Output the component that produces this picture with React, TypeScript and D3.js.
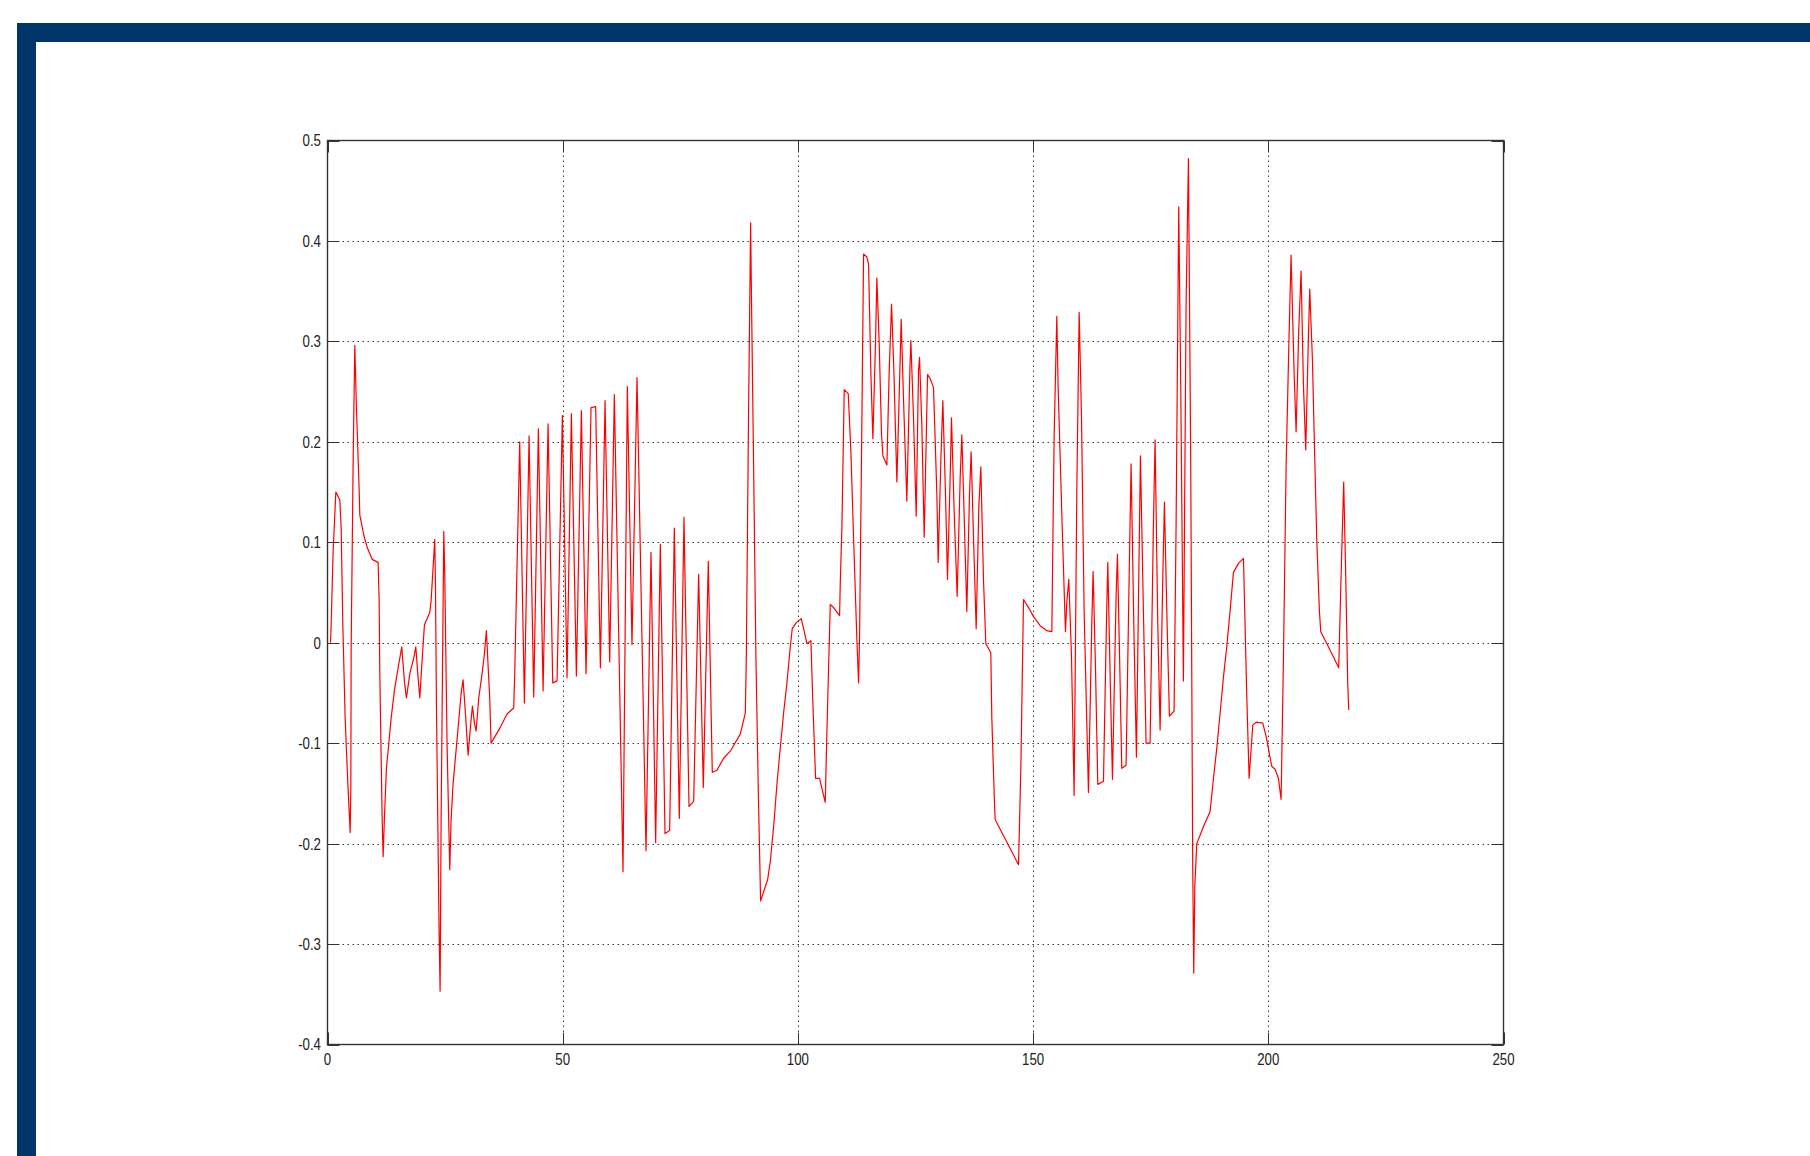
import * as d3 from "d3";

// tick values of the two axes
const xTicks = [0, 50, 100, 150, 200, 250];
const yTicks = [-0.4, -0.3, -0.2, -0.1, 0, 0.1, 0.2, 0.3, 0.4, 0.5];
const yTickLabels = ["-0.4", "-0.3", "-0.2", "-0.1", "0", "0.1", "0.2", "0.3", "0.4", "0.5"];

// the red trace ([x, y])
const part1: [number, number][] = [
  [0.64, 0], [0.78, 0.018], [1.2, 0.091], [1.77, 0.15], [2.62, 0.142], [2.9, 0.115],
  [3.26, 0.018], [3.75, -0.075], [4.32, -0.14], [4.82, -0.189], [4.96, -0.144], [5.03, -0.006],
  [5.45, 0.18], [5.8, 0.296], [6.16, 0.233], [6.73, 0.152], [6.87, 0.127], [7.72, 0.107],
  [8.43, 0.095], [9.49, 0.083], [10.76, 0.08], [10.98, 0.042], [11.12, -0.031], [11.61, -0.173],
  [11.83, -0.213], [12.11, -0.173], [12.54, -0.124], [12.96, -0.104], [13.53, -0.075],
  [14.24, -0.047], [14.94, -0.027], [15.79, -0.004], [16.36, -0.039], [16.78, -0.055],
  [17.49, -0.031], [18.34, -0.015], [18.77, -0.004], [19.19, -0.031], [19.62, -0.055],
  [20.04, -0.023], [20.61, 0.018], [21.74, 0.03], [22.03, 0.042], [22.45, 0.075], [22.8, 0.103],
  [22.95, 0.058], [23.16, -0.063], [23.73, -0.29], [23.94, -0.347], [24.15, -0.177], [24.72, 0.111],
  [24.93, 0.067], [25.43, -0.104], [25.99, -0.226], [26.27, -0.177], [26.7, -0.14], [27.55, -0.096],
  [28.4, -0.051], [28.82, -0.037], [29.39, -0.075], [29.89, -0.112], [30.38, -0.084], [30.81, -0.063],
  [31.23, -0.08], [31.59, -0.088], [32.15, -0.055], [32.86, -0.031], [33.36, -0.011], [33.78, 0.012],
  [34.14, -0.023], [34.49, -0.055], [34.77, -0.1], [36.76, -0.084], [38.17, -0.071], [39.59, -0.065],
  [39.8, -0.031], [40.86, 0.2],
];

const part2: [number, number][] = [
  [41.86, -0.06], [42.85, 0.206], [43.84, -0.054], [44.83, 0.213], [45.83, -0.048], [46.89, 0.218],
  [47.88, -0.04], [48.8, -0.038], [49.93, 0.226], [50.92, -0.035], [51.84, 0.228], [52.91, -0.033],
  [53.97, 0.231], [54.96, -0.031], [56.02, 0.234], [57.01, 0.235], [58.01, -0.025], [59.0, 0.241],
  [59.99, -0.019], [60.98, 0.247], [62.82, -0.228], [63.74, 0.255], [64.73, -0.002], [65.8, 0.264],
  [67.71, -0.207], [68.77, 0.09], [69.76, -0.199], [70.75, 0.098], [71.75, -0.19], [72.74, -0.187],
  [73.73, 0.114], [74.79, -0.175], [75.78, 0.125], [76.85, -0.163], [77.84, -0.158], [78.9, 0.068],
  [79.89, -0.144], [80.95, 0.081], [81.8, -0.129], [82.79, -0.127], [84.21, -0.115], [85.63, -0.108],
  [87.75, -0.091], [88.82, -0.07],
];

const part3: [number, number][] = [
  [89.03, -0.016], [89.52, 0.234], [89.95, 0.418], [90.09, 0.359], [90.59, 0.174], [91.08, -0.016],
  [91.58, -0.147], [92.07, -0.257], [93.56, -0.236], [94.13, -0.218], [94.84, -0.183], [95.54, -0.141],
  [96.25, -0.105], [96.96, -0.07], [97.67, -0.04], [98.38, -0.004], [98.8, 0.014], [99.65, 0.02],
  [100.71, 0.024], [101.21, 0.014], [101.92, -0.001], [102.77, 0.002], [103.12, -0.052], [103.76, -0.135],
  [104.61, -0.135], [105.81, -0.159], [106.17, -0.088], [106.88, 0.038], [107.58, 0.035], [108.86, 0.027],
];

const part4: [number, number][] = [
  [109.0, 0.058], [109.35, 0.114], [109.85, 0.252], [110.7, 0.248], [111.27, 0.19], [111.83, 0.105],
  [112.54, 0.003], [112.9, -0.04], [113.11, 0.007], [113.6, 0.22], [113.96, 0.387], [114.67, 0.384],
  [115.02, 0.377], [115.52, 0.267], [115.94, 0.203], [116.51, 0.301], [116.79, 0.363], [117.29, 0.297],
  [117.78, 0.207], [118.07, 0.186], [118.92, 0.177], [119.41, 0.271], [119.91, 0.337], [120.4, 0.271],
  [121.04, 0.16], [121.75, 0.284], [121.96, 0.322], [122.46, 0.241], [123.16, 0.141], [123.8, 0.271],
  [124.01, 0.301], [124.58, 0.224], [125.15, 0.126], [125.64, 0.271], [125.86, 0.284], [126.35, 0.216],
  [126.85, 0.105], [127.56, 0.267], [128.12, 0.263], [128.83, 0.254], [129.54, 0.148], [129.82, 0.08],
  [130.39, 0.182], [130.81, 0.241], [131.38, 0.148], [131.8, 0.063], [132.37, 0.165], [132.65, 0.224],
  [133.22, 0.131], [133.86, 0.046], [134.5, 0.165], [134.85, 0.207], [135.42, 0.114], [135.91, 0.031],
  [136.48, 0.148], [136.83, 0.19], [137.33, 0.105], [137.9, 0.014], [138.46, 0.135], [138.89, 0.175],
  [139.45, 0.063], [139.95, -0.001], [141.01, -0.01], [141.22, -0.074], [141.72, -0.15], [141.93, -0.176],
];

const part5: [number, number][] = [
  [146.9, -0.221], [147.4, -0.123], [147.82, 0.001], [147.96, 0.043], [149.03, 0.035], [150.09, 0.026],
  [151.5, 0.017], [152.92, 0.012], [153.98, 0.011], [154.47, 0.205], [155.04, 0.325], [155.32, 0.254],
  [156.17, 0.118], [156.88, 0.011], [157.17, 0.041], [157.59, 0.063], [158.16, -0.013], [158.72, -0.152],
  [159.29, 0.15], [159.79, 0.329], [160.28, 0.227], [160.85, 0.031], [161.77, -0.149], [162.48, 0.02],
  [162.76, 0.071], [163.26, -0.024], [163.75, -0.141], [164.96, -0.138], [165.59, 0.02], [165.88, 0.08],
  [166.44, -0.046], [166.87, -0.136], [167.65, 0.047], [167.93, 0.088], [168.5, -0.04], [168.85, -0.125],
  [169.77, -0.122], [170.41, 0.063], [170.83, 0.178], [171.4, 0.02], [171.97, -0.114], [172.46, 0.063],
  [172.82, 0.186], [173.45, 0.031], [174.02, -0.1], [174.87, -0.1], [175.58, 0.118], [175.93, 0.202],
  [176.5, 0.02], [177.0, -0.087], [177.56, 0.063], [177.92, 0.14], [178.48, 0.02], [178.98, -0.073],
  [179.97, -0.068], [180.4, 0.118], [180.96, 0.434], [181.39, 0.254], [181.95, -0.038], [182.52, 0.336],
  [183.02, 0.482], [183.51, 0.178], [183.94, -0.226], [184.15, -0.329],
];

const part6: [number, number][] = [
  [184.38, -0.242], [184.8, -0.2], [186.22, -0.183], [187.63, -0.168], [188.34, -0.135], [189.05, -0.105],
  [189.76, -0.07], [190.47, -0.034], [191.17, -0.004], [191.88, 0.032], [192.59, 0.07], [193.65, 0.079],
  [194.72, 0.084], [195.42, -0.052], [195.92, -0.135], [196.27, -0.111], [196.7, -0.082], [197.41, -0.079],
  [198.82, -0.08], [199.53, -0.093], [200.24, -0.111], [200.74, -0.123], [201.44, -0.126], [202.15, -0.135],
  [202.72, -0.156], [203.22, -0.016], [203.78, 0.174], [204.35, 0.293], [204.84, 0.386], [205.48, 0.27],
  [205.91, 0.21], [206.47, 0.311], [206.97, 0.37], [207.46, 0.258], [207.96, 0.192], [208.53, 0.305],
  [208.81, 0.352], [209.38, 0.282], [209.8, 0.198], [210.3, 0.103], [210.86, 0.032], [211.15, 0.011],
  [212.78, -0.004], [214.97, -0.025], [215.61, 0.091], [216.03, 0.16], [216.46, 0.067], [216.88, -0.04],
  [217.1, -0.067],
];

const trace = [...part1, ...part2, ...part3, ...part4, ...part5, ...part6];

export default function App() {
  const W = 1810, H = 1156;
  const left = 327.5, right = 1503.5, top = 140.5, bottom = 1044.5;
  const tickLen = 12;

  const x = d3.scaleLinear().domain([0, 250]).range([left, right]);
  const y = d3.scaleLinear().domain([-0.4, 0.5]).range([bottom, top]);
  const line = d3.line<[number, number]>().x(d => x(d[0])).y(d => y(d[1]));

  // labels in the picture use a narrow sans, so squeeze a normal one
  const font = "'Liberation Sans', Arial, sans-serif";
  const squeeze = 0.78;
  const navy = "#00366a";

  return (
    <div style={{ position: "fixed", left: 0, top: 0, width: W, height: H, background: "#fff" }}>
      <svg width={W} height={H}>
        <rect x={0} y={0} width={W} height={H} fill="#fff" />
        {/* dark blue slide border */}
        <rect x={17} y={23} width={W - 17} height={19} fill={navy} />
        <rect x={17} y={23} width={19} height={H - 23} fill={navy} />

        {/* dotted grid */}
        {xTicks.filter(t => t > 0 && t < 250).map(t => (
          <line key={"gx" + t} x1={Math.round(x(t)) + 0.5} x2={Math.round(x(t)) + 0.5} y1={top} y2={bottom}
            stroke="#3a3a3a" strokeWidth={1} strokeDasharray="1.5 3.5" />
        ))}
        {yTicks.filter(t => t > -0.4 && t < 0.5).map(t => (
          <line key={"gy" + t} x1={left} x2={right} y1={Math.round(y(t)) + 0.5} y2={Math.round(y(t)) + 0.5}
            stroke="#3a3a3a" strokeWidth={1} strokeDasharray="1.5 3.5" />
        ))}

        {/* tick marks on all four sides, inward */}
        {xTicks.map(t => {
          const px = Math.round(x(t)) + 0.5;
          return (
            <g key={"tx" + t} stroke="#333" strokeWidth={1}>
              <line x1={px} x2={px} y1={bottom} y2={bottom - tickLen} />
              <line x1={px} x2={px} y1={top} y2={top + tickLen} />
            </g>
          );
        })}
        {yTicks.map(t => {
          const py = Math.round(y(t)) + 0.5;
          return (
            <g key={"ty" + t} stroke="#333" strokeWidth={1}>
              <line x1={left} x2={left + tickLen} y1={py} y2={py} />
              <line x1={right} x2={right - tickLen} y1={py} y2={py} />
            </g>
          );
        })}

        {/* data trace */}
        <path d={line(trace) ?? ""} fill="none" stroke="#ff0000" strokeWidth={1.2} strokeLinejoin="round" />

        {/* axes box */}
        <rect x={left} y={top} width={right - left} height={bottom - top} fill="none" stroke="#333" strokeWidth={1.4} />

        {/* tick labels */}
        {xTicks.map(t => (
          <text key={"lx" + t} transform={`translate(${x(t)},1065) scale(${squeeze},1)`}
            textAnchor="middle" fontFamily={font} fontSize={17} fill="#222">
            {String(t)}
          </text>
        ))}
        {yTicks.map((t, i) => (
          <text key={"ly" + t} transform={`translate(321,${y(t)}) scale(${squeeze},1)`}
            dy="0.35em" textAnchor="end" fontFamily={font} fontSize={17} fill="#222">
            {yTickLabels[i]}
          </text>
        ))}
      </svg>
    </div>
  );
}
